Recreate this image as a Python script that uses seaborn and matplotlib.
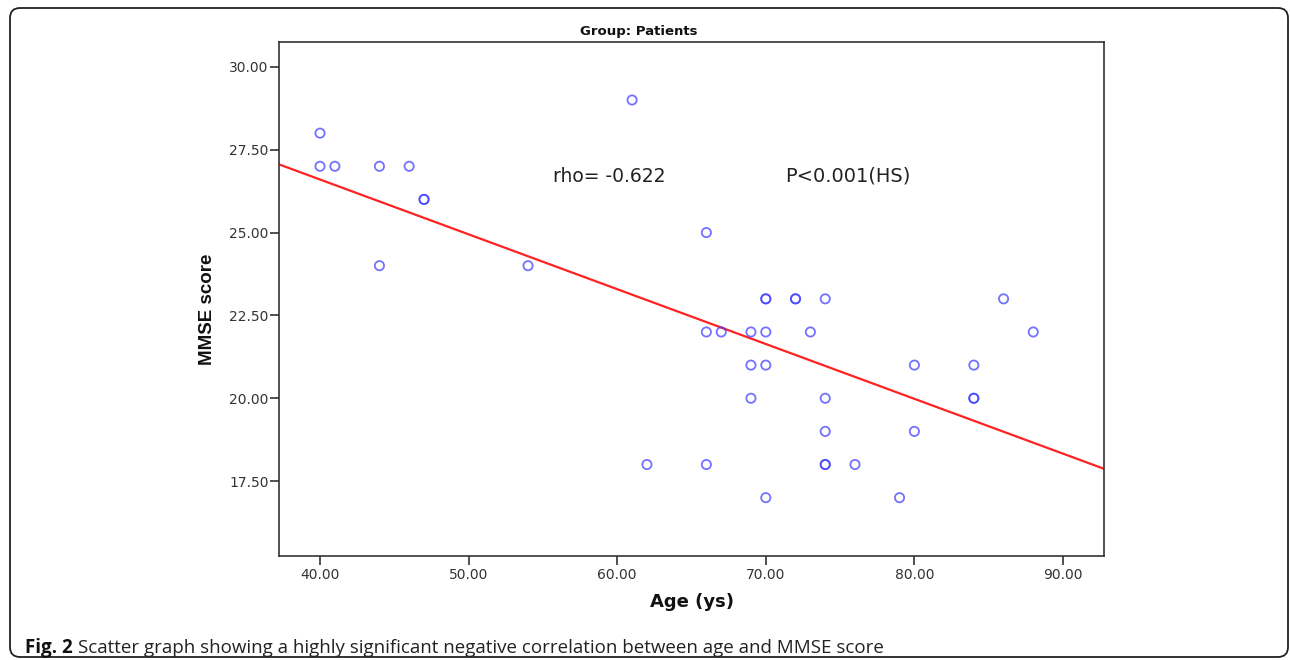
import matplotlib
matplotlib.use("Agg")
import matplotlib.pyplot as plt
import matplotlib.transforms as mtransforms
from matplotlib.patches import FancyBboxPatch
from matplotlib.ticker import FormatStrFormatter
import numpy as np
import pandas as pd
import seaborn as sns

# ---- data ----
age = [40, 40, 41, 44, 46, 47, 47, 44, 54, 61,
       66, 66, 67, 69, 70, 69, 70, 69, 62, 66,
       70, 70, 72, 72, 74, 73, 74, 74, 74, 74,
       76, 70, 79, 80, 80, 84, 84, 84, 86, 88]
mmse = [28, 27, 27, 27, 27, 26, 26, 24, 24, 29,
        25, 22, 22, 22, 22, 21, 21, 20, 18, 18,
        23, 23, 23, 23, 23, 22, 20, 19, 18, 18,
        18, 17, 17, 21, 19, 21, 20, 20, 23, 22]
x_ticks = [40, 50, 60, 70, 80, 90]
y_ticks = [17.5, 20.0, 22.5, 25.0, 27.5, 30.0]
title = "Group: Patients"
x_label = "Age (ys)"
y_label = "MMSE score"
rho_text = "rho= -0.622"
p_text = "P<0.001(HS)"
caption_bold = "Fig. 2"
caption_text = "Scatter graph showing a highly significant negative correlation between age and MMSE score"

df = pd.DataFrame({"age": age, "mmse": mmse})

sns.set_style("white")
plt.rcParams["font.family"] = ["DejaVu Sans"]

W, H = 1290, 660
fig = plt.figure(figsize=(W / 100, H / 100), dpi=100)
ax = fig.add_axes([279 / W, 1 - 556 / H, (1104 - 279) / W, (556 - 42) / H])
ax.set_xlim(37.24, 92.76)
ax.set_ylim(15.24, 30.75)

sns.regplot(data=df, x="age", y="mmse", ax=ax, ci=None, truncate=False,
            scatter_kws=dict(color="#3c3cff", facecolors="none", s=44,
                             linewidths=1.3, alpha=0.72, zorder=3),
            line_kws=dict(color="#ff2222", lw=1.6, zorder=2))

ax.set_xlim(37.24, 92.76)
ax.set_ylim(15.24, 30.75)
ax.set_xticks(x_ticks)
ax.set_yticks(y_ticks)
ax.xaxis.set_major_formatter(FormatStrFormatter("%.2f"))
ax.yaxis.set_major_formatter(FormatStrFormatter("%.2f"))
ax.tick_params(axis="both", direction="out", length=6.5, width=1.1,
               color="#222222", labelsize=10, labelcolor="#333333",
               left=True, bottom=True)
ax.tick_params(axis="y", pad=1)
ax.tick_params(axis="x", pad=2)
for s in ax.spines.values():
    s.set_visible(True)
    s.set_color("#333333")
    s.set_linewidth(1.2)

ax.set_xlabel(x_label, fontsize=13, fontweight="bold", color="#111111")
ax.xaxis.set_label_coords(0.5, -0.072)
ax.set_ylabel(y_label, fontsize=13.5, fontweight="bold", color="#111111",
              family=["Liberation Sans", "DejaVu Sans"])
ax.yaxis.set_label_coords(-0.076, 0.4805)

fig.text(639 / W, 1 - 31 / H, title, ha="center", va="center",
         fontsize=9.5, fontweight="bold", color="#111111")
fig.text(553 / W, 1 - 182 / H, rho_text, ha="left", va="baseline",
         fontsize=13.5, color="#222222")
fig.text(785 / W, 1 - 182 / H, p_text, ha="left", va="baseline",
         fontsize=14, color="#222222")

# caption
t1 = fig.text(25 / W, 1 - 648 / H, caption_bold, ha="left", va="center",
              fontsize=13.5, fontweight="bold", family=["Open Sans", "DejaVu Sans"],
              color="#111111")
fig.canvas.draw()
bb = t1.get_window_extent(renderer=fig.canvas.get_renderer())
fig.text((bb.x1 + 5) / W, 1 - 648 / H, caption_text, ha="left", va="center",
         fontsize=13.5, family=["Open Sans", "DejaVu Sans"], color="#222222")

# outer rounded frame
frame = FancyBboxPatch((10, 3), 1278, 649, boxstyle="round,pad=0,rounding_size=10",
                       transform=mtransforms.IdentityTransform(),
                       fill=False, edgecolor="#222222", linewidth=1.3)
fig.patches.append(frame)

fig.savefig("out.png", dpi=100)
